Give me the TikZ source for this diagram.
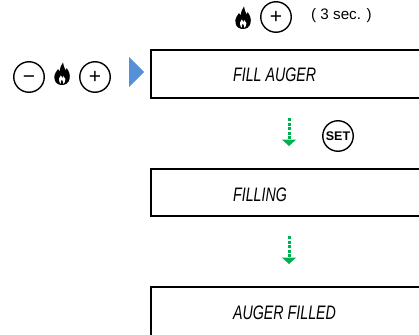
\documentclass[tikz,border=0pt]{standalone}
\usepackage{fontspec}
\setmainfont{Liberation Sans}
\newfontfamily\lcdfont{Liberation Sans}
\usetikzlibrary{arrows.meta}
\definecolor{arrgreen}{HTML}{00B050}
\definecolor{triblue}{HTML}{5590D9}
\tikzset{
  x=1pt,y=-1pt,
  btn/.style={draw=black,line width=1.4pt,circle,minimum size=30.5pt,inner sep=0pt,font=\fontsize{21}{21}\selectfont},
  setbtn/.style={btn,font=\fontsize{12.5}{13}\bfseries\selectfont},
  lcd/.style={anchor=west,inner sep=0pt,font=\lcdfont\itshape\fontsize{19.5}{20}\selectfont,xscale=.73,transform shape},
  screen/.style={draw=black,line width=2pt},
  nextarrow/.style={draw=arrgreen,line width=3pt,dash pattern=on 3pt off 1.6pt,-{Triangle[length=6.5pt,width=14pt,fill=arrgreen]}},
  flame/.pic={
    \fill[black] (-7.5,5) .. controls (-8.5,0) and (-5,-3) .. (-4,-5)
      .. controls (-3.5,-3.5) and (-3,-3) .. (-2.5,-2.5)
      .. controls (-2,-6) and (-1,-9) .. (1,-11.5)
      .. controls (1,-8) and (3,-6) .. (3.5,-4)
      .. controls (4,-3.5) and (4.5,-4.5) .. (4.5,-6)
      .. controls (7,-3) and (8.5,1) .. (7.5,5)
      .. controls (6.8,9) and (3.5,11) .. (0,11)
      .. controls (-4,11) and (-6.8,9) .. (-7.5,5) -- cycle;
    \fill[white] (-2.6,8) .. controls (-4.4,5.5) and (-2.2,3.5) .. (-1.3,1.5)
      .. controls (-.9,3) and (0,3.5) .. (.9,4)
      .. controls (1.3,3) and (1.3,2.5) .. (1.3,2)
      .. controls (3.5,4) and (4.3,6.5) .. (2.6,8.5)
      .. controls (2.2,9.5) and (1.5,9.8) .. (1.5,9.8)
      .. controls (1.8,8) and (0,6.5) .. (-.2,5.5)
      .. controls (-1.3,7) and (-1.8,8.5) .. (-1,9.8)
      .. controls (-1.8,9.5) and (-2.3,9) .. (-2.6,8) -- cycle;
  }
}
\begin{document}
\begin{tikzpicture}
\useasboundingbox (0,0) rectangle (419,334);
% screens (open towards the picture's edges)
\begin{scope}
\clip (0,0) rectangle (419,334);
\draw[screen] (425,50) -- (150.5,50) -- (150.5,98) -- (425,98);
\draw[screen] (425,169) -- (150.5,169) -- (150.5,216) -- (425,216);
\draw[screen] (425,286.5) -- (150.5,286.5) -- (150.5,340);
\end{scope}
\node[lcd] (t1) at (233,75) {FILL AUGER};
\node[lcd] (t2) at (233,194.5) {FILLING};
\node[lcd] (t3) at (233,312.5) {AUGER FILLED};
% top row
\pic at (243,18) {flame};
\node[btn] (plustop) at (276,17) {+};
\node[anchor=west,inner sep=0pt,font=\fontsize{15.2}{16}\selectfont] (sec) at (311,16) {( 3 sec. )};
% left row
\node[btn] (minus) at (29,77) {\vphantom{+}\textminus};
\pic at (62,74) {flame};
\node[btn] (plusleft) at (95,77) {+};
\fill[triblue] (129,57) -- (144,72) -- (129,87) -- cycle;
% set
\node[setbtn] (setb) at (338,136) {SET};
% arrows
\coordinate (a1s) at (289,118);
\coordinate (a1e) at (289,146);
\coordinate (a2s) at (289,236);
\coordinate (a2e) at (289,264);
\draw[nextarrow] (a1s) -- (a1e);
\draw[nextarrow] (a2s) -- (a2e);
\end{tikzpicture}
\end{document}
